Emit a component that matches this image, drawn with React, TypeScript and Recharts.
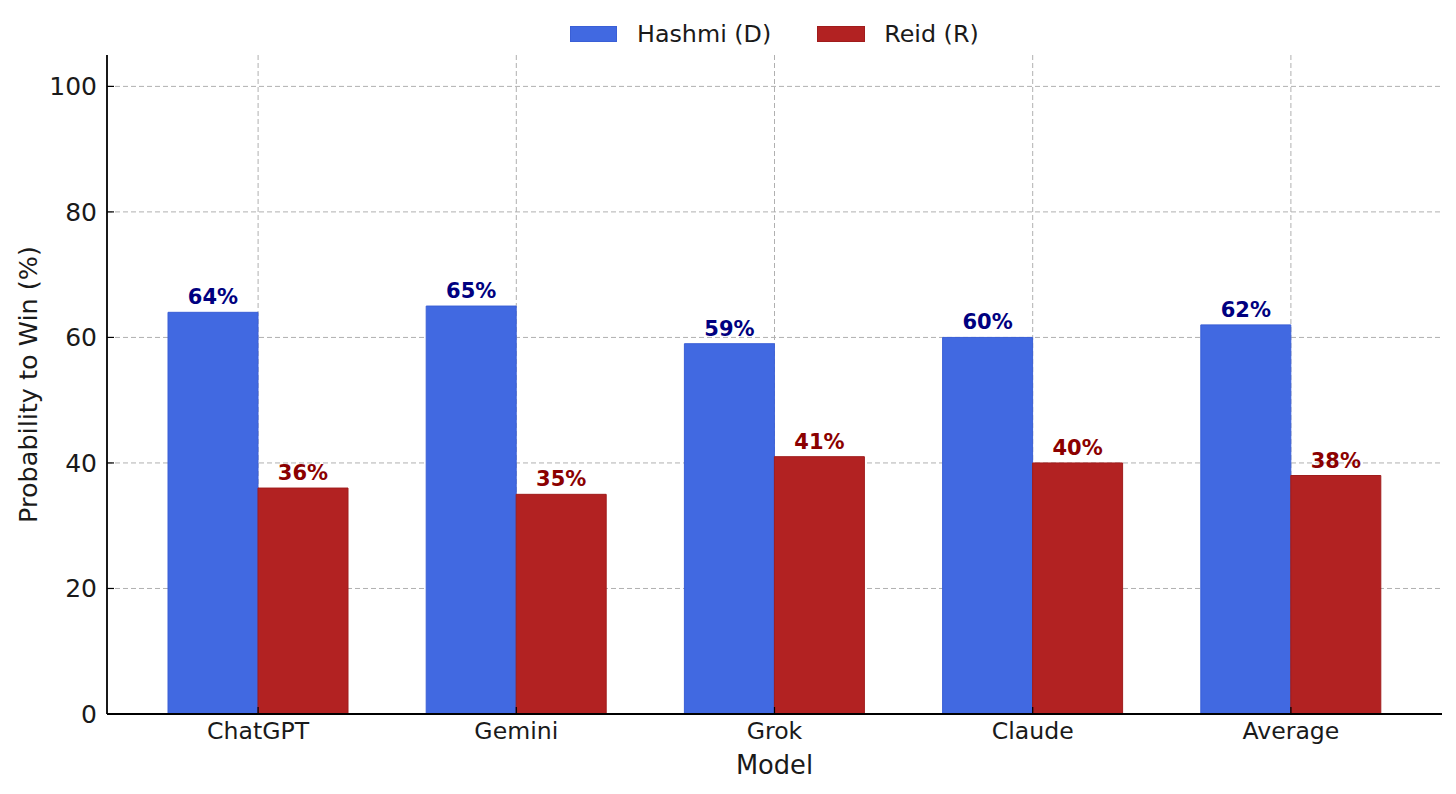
import React from 'react';
import { BarChart, Bar, XAxis, YAxis, CartesianGrid, LabelList, Label } from 'recharts';

const categories = ['ChatGPT', 'Gemini', 'Grok', 'Claude', 'Average'];
const hashmi = [64, 65, 59, 60, 62];
const reid = [36, 35, 41, 40, 38];
const yTicks = [0, 20, 40, 60, 80, 100];
const yDomain = [0, 105];

const data = categories.map((c, i) => ({ model: c, hashmi: hashmi[i], reid: reid[i] }));

const FONT = '"DejaVu Sans", sans-serif';
const X_PAD = 22;

const LegendBox = () => (
  <div
    style={{
      position: 'absolute',
      top: 20,
      left: 570,
      height: 28,
      display: 'flex',
      alignItems: 'center',
      fontFamily: FONT,
      fontSize: 23.8,
      color: '#1a1a1a',
      whiteSpace: 'nowrap',
    }}
  >
    <span style={{ display: 'inline-block', width: 47, height: 16, background: '#4169E1', border: '1px solid #3a5fd6', boxSizing: 'border-box', marginRight: 20 }} />
    <span style={{ marginRight: 46 }}>Hashmi (D)</span>
    <span style={{ display: 'inline-block', width: 48, height: 16, background: '#B22222', border: '1px solid #a01c1c', boxSizing: 'border-box', marginRight: 19 }} />
    <span>Reid (R)</span>
  </div>
);

const hGen = (props: any) => {
  const ax = props?.yAxis;
  if (ax && typeof ax.scale === 'function') return yTicks.map((t) => ax.scale(t));
  const off = props.offset;
  return yTicks.map((t) => off.top + off.height * (1 - (t - yDomain[0]) / (yDomain[1] - yDomain[0])));
};

const vGen = (props: any) => {
  const ax = props?.xAxis;
  if (ax && typeof ax.scale === 'function' && typeof ax.scale.bandwidth === 'function') {
    const bw = ax.scale.bandwidth();
    return categories.map((c) => ax.scale(c) + bw / 2);
  }
  const off = props.offset;
  const band = (off.width - 2 * X_PAD) / categories.length;
  return categories.map((_, i) => off.left + X_PAD + band * (i + 0.5));
};

export default function App() {
  return (
    <div style={{ position: 'absolute', left: 0, top: 0, width: 1456, height: 794, background: '#fff' }}>
      <LegendBox />
      <BarChart
        width={1456}
        height={794}
        data={data}
        margin={{ top: 55, right: 14, left: 0, bottom: 0 }}
        barGap={0}
        barSize={90}
      >
        <XAxis
          dataKey="model"
          height={80}
          padding={{ left: X_PAD, right: X_PAD }}
          axisLine={{ stroke: '#000', strokeWidth: 1.8 }}
          tickLine={{ stroke: '#000', strokeWidth: 1.2 }}
          tickSize={-7}
          tickMargin={15}
          tick={{ fill: '#1a1a1a', fontSize: 23.6, fontFamily: FONT }}
        >
          <Label value="Model" position="center" dy={11} style={{ fill: '#1a1a1a', fontSize: 25.7, fontFamily: FONT }} />
        </XAxis>
        <YAxis
          width={107}
          domain={yDomain}
          ticks={yTicks}
          interval={0}
          allowDataOverflow
          axisLine={{ stroke: '#000', strokeWidth: 1.8 }}
          tickLine={{ stroke: '#000', strokeWidth: 1.2 }}
          tickSize={-7}
          tickMargin={17}
          tick={{ fill: '#1a1a1a', fontSize: 25, fontFamily: FONT }}
        >
          <Label
            value="Probability to Win (%)"
            angle={-90}
            position="center"
            dx={-26}
            style={{ fill: '#1a1a1a', fontSize: 25.5, fontFamily: FONT, textAnchor: 'middle' }}
          />
        </YAxis>
        <Bar dataKey="hashmi" name="Hashmi (D)" fill="#4169E1" stroke="#3a5fd6" strokeWidth={1} isAnimationActive={false}>
          <LabelList
            dataKey="hashmi"
            position="top"
            offset={8}
            formatter={(v: number) => `${v}%`}
            style={{ fill: '#000080', fontWeight: 'bold', fontSize: 21, fontFamily: FONT }}
          />
        </Bar>
        <Bar dataKey="reid" name="Reid (R)" fill="#B22222" stroke="#a01c1c" strokeWidth={1} isAnimationActive={false}>
          <LabelList
            dataKey="reid"
            position="top"
            offset={8}
            formatter={(v: number) => `${v}%`}
            style={{ fill: '#8B0000', fontWeight: 'bold', fontSize: 21, fontFamily: FONT }}
          />
        </Bar>
        <CartesianGrid
          stroke="#b0b0b0"
          strokeDasharray="5 3"
          strokeWidth={1}
          horizontalCoordinatesGenerator={hGen}
          verticalCoordinatesGenerator={vGen}
        />
      </BarChart>
    </div>
  );
}
